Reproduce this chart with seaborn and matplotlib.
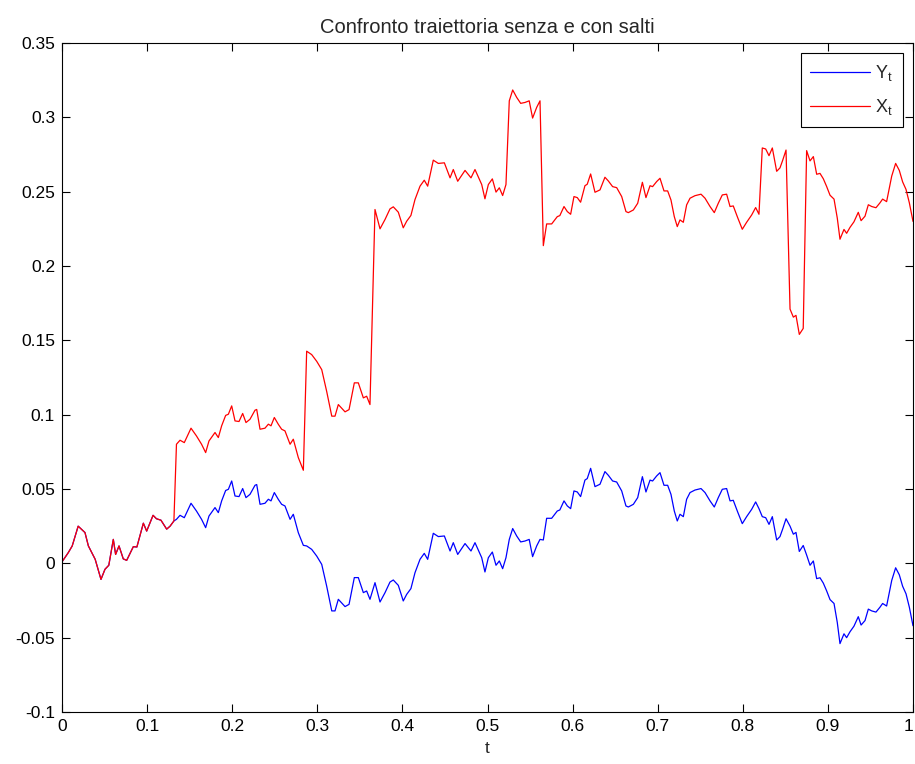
import numpy as np
import pandas as pd
import matplotlib
matplotlib.use("Agg")
import matplotlib.pyplot as plt
import seaborn as sns

# time grid and trajectory without jumps (Y_t)
t_vals = [
    0.000, 0.0074, 0.012, 0.019, 0.027, 0.031, 0.039, 0.0458, 0.0505, 0.055,
    0.0603, 0.063, 0.067, 0.072, 0.076, 0.0838, 0.088, 0.0956, 0.0995, 0.107,
    0.111, 0.1163, 0.123, 0.127, 0.1315, 0.1345, 0.1387, 0.1437, 0.1516, 0.158,
    0.164, 0.1688, 0.1727, 0.1798, 0.1837, 0.1876, 0.1923, 0.1955, 0.1994, 0.2033,
    0.208, 0.2123, 0.2162, 0.2209, 0.2268, 0.2288, 0.2327, 0.2385, 0.2425, 0.2456,
    0.2495, 0.2542, 0.2581, 0.262, 0.268, 0.2718, 0.2777, 0.2836, 0.2875, 0.2934,
    0.2993, 0.3052, 0.311, 0.317, 0.3208, 0.3247, 0.3326, 0.3373, 0.3435, 0.3482,
    0.3541, 0.358, 0.3619, 0.3678, 0.3737, 0.3796, 0.3854, 0.3893, 0.3952, 0.401,
    0.405, 0.41, 0.4148, 0.4207, 0.4257, 0.4297, 0.4363, 0.4422, 0.4493, 0.456,
    0.4598, 0.465, 0.4736, 0.4806, 0.4853, 0.4932, 0.497, 0.501, 0.5057, 0.51,
    0.5139, 0.5178, 0.5217, 0.5256, 0.5296, 0.5343, 0.539, 0.544, 0.549, 0.553,
    0.5578, 0.5617, 0.5656, 0.5695, 0.5754, 0.582, 0.585, 0.5899, 0.5938, 0.5977,
    0.6016, 0.6055, 0.6094, 0.6145, 0.6172, 0.6212, 0.6263, 0.6322, 0.638, 0.642,
    0.647, 0.6518, 0.6577, 0.6627, 0.6655, 0.6714, 0.6765, 0.682, 0.6862, 0.691,
    0.694, 0.6988, 0.7027, 0.7074, 0.7117, 0.7156, 0.7195, 0.723, 0.7262, 0.7301,
    0.734, 0.738, 0.7438, 0.7509, 0.7556, 0.7615, 0.7665, 0.7712, 0.7759, 0.781,
    0.785, 0.7888, 0.794, 0.7994, 0.8045, 0.8104, 0.8151, 0.819, 0.8229, 0.8269,
    0.8308, 0.8347, 0.8398, 0.8437, 0.8468, 0.8508, 0.8555, 0.8594, 0.8625, 0.8664,
    0.871, 0.875, 0.879, 0.8829, 0.8868, 0.8907, 0.8946, 0.8985, 0.9025, 0.9072,
    0.911, 0.9142, 0.9189, 0.922, 0.926, 0.9306, 0.9357, 0.939, 0.9436, 0.9475,
    0.9515, 0.9565, 0.9612, 0.9643, 0.969, 0.975, 0.9796, 0.9839, 0.9878, 0.9918,
    0.9957, 1.000,
]
y_vals = [
    0.001, 0.0072, 0.0117, 0.025, 0.0207, 0.0117, 0.0027, -0.0108, -0.004, -0.0013,
    0.0161, 0.006, 0.0117, 0.003, 0.002, 0.0112, 0.011, 0.027, 0.0217, 0.0323,
    0.030, 0.029, 0.023, 0.025, 0.0285, 0.0296, 0.0323, 0.0307, 0.0404, 0.0352,
    0.0296, 0.024, 0.0318, 0.0375, 0.0341, 0.042, 0.049, 0.0498, 0.0554, 0.0453,
    0.0449, 0.0503, 0.0442, 0.0464, 0.0525, 0.053, 0.0397, 0.0404, 0.0431, 0.042,
    0.0476, 0.043, 0.0397, 0.0386, 0.0296, 0.033, 0.0206, 0.0121, 0.0117, 0.0094,
    0.0049, -0.0007, -0.0153, -0.032, -0.032, -0.0242, -0.0291, -0.0276, -0.0096, -0.0096,
    -0.0197, -0.0186, -0.0242, -0.013, -0.026, -0.0197, -0.0126, -0.0112, -0.0148, -0.0253,
    -0.0209, -0.017, -0.0063, 0.0027, 0.0067, 0.0027, 0.0202, 0.018, 0.0184, 0.0083,
    0.0139, 0.006, 0.0133, 0.0083, 0.0139, 0.0038, -0.0058, 0.0038, 0.0076, -0.0013,
    0.0016, -0.0036, 0.0038, 0.0161, 0.0234, 0.0184, 0.0144, 0.015, 0.0161, 0.0045,
    0.0117, 0.0161, 0.0157, 0.0303, 0.0303, 0.0352, 0.0359, 0.042, 0.0386, 0.0368,
    0.0487, 0.048, 0.0449, 0.056, 0.057, 0.0639, 0.0516, 0.0532, 0.0617, 0.0592,
    0.0554, 0.0547, 0.0487, 0.0386, 0.0379, 0.0397, 0.0442, 0.0583, 0.048, 0.056,
    0.0554, 0.0588, 0.061, 0.0525, 0.0525, 0.0464, 0.0352, 0.0285, 0.033, 0.0314,
    0.0431, 0.0476, 0.0493, 0.0503, 0.0476, 0.042, 0.0379, 0.0442, 0.0498, 0.0503,
    0.042, 0.0424, 0.0345, 0.0267, 0.0314, 0.0363, 0.0413, 0.0368, 0.0314, 0.0307,
    0.0262, 0.0314, 0.0157, 0.018, 0.023, 0.030, 0.025, 0.0196, 0.0208, 0.008,
    0.012, 0.0056, -0.0013, 0.0016, -0.0103, -0.0097, -0.0133, -0.0185, -0.0244, -0.027,
    -0.0397, -0.054, -0.0474, -0.05, -0.046, -0.0423, -0.0359, -0.0415, -0.0385, -0.0308,
    -0.032, -0.0328, -0.0295, -0.027, -0.0287, -0.0115, -0.003, -0.0077, -0.0154, -0.0205,
    -0.0295, -0.042,
]

# jump times and sizes of the jump component (X_t = Y_t + jumps)
jump_times = [0.133, 0.285, 0.363, 0.5235, 0.5637, 0.8205, 0.8525, 0.873]
jump_sizes = [0.0505, 0.0805, 0.120, 0.044, -0.097, 0.050, -0.102, 0.126]

xtick_vals = [0, 0.1, 0.2, 0.3, 0.4, 0.5, 0.6, 0.7, 0.8, 0.9, 1]
xtick_labels = ["0", "0.1", "0.2", "0.3", "0.4", "0.5", "0.6", "0.7", "0.8", "0.9", "1"]
ytick_vals = [-0.1, -0.05, 0, 0.05, 0.1, 0.15, 0.2, 0.25, 0.3, 0.35]
ytick_labels = ["-0.1", "-0.05", "0", "0.05", "0.1", "0.15", "0.2", "0.25", "0.3", "0.35"]

t = np.array(t_vals)
y = np.array(y_vals)
cum_jump = np.zeros_like(t)
for jt, js in zip(jump_times, jump_sizes):
    cum_jump[t >= jt] += js
x = y + cum_jump

df = pd.DataFrame({"t": t, "Y": y, "X": x})

sns.set_style("ticks")
plt.rcParams["font.family"] = ["Liberation Sans", "DejaVu Sans"]
plt.rcParams["mathtext.default"] = "regular"

fig = plt.figure(figsize=(9.15, 7.64), dpi=100)
ax = fig.add_axes([62 / 915, 1 - 712 / 764, (913 - 62) / 915, (712 - 43) / 764])

sns.lineplot(data=df, x="t", y="Y", ax=ax, color="#0000ff", linewidth=0.9,
             sort=False, estimator=None, label=r"$Y_t$")
sns.lineplot(data=df, x="t", y="X", ax=ax, color="#ff0000", linewidth=0.9,
             sort=False, estimator=None, label=r"$X_t$")

ax.set_xlim(0, 1)
ax.set_ylim(-0.1, 0.35)
ax.set_xticks(xtick_vals)
ax.set_xticklabels(xtick_labels)
ax.set_yticks(ytick_vals)
ax.set_yticklabels(ytick_labels)
ax.tick_params(direction="in", top=True, right=True, length=6, width=0.8,
               labelsize=12.5, colors="black", pad=5)
# keep the last tick label inside the figure edge
ax.get_xticklabels()[-1].set_horizontalalignment("right")
for sp in ax.spines.values():
    sp.set_visible(True)
    sp.set_color("black")
    sp.set_linewidth(0.8)

ax.set_xlabel("t", fontsize=12.5, labelpad=5)
ax.set_ylabel("")
ax.set_title("Confronto traiettoria senza e con salti", fontsize=14.5, pad=7)

leg = ax.legend(loc="upper right", fontsize=13, handlelength=3.3, labelspacing=0.8,
                handletextpad=0.3, borderpad=0.55, borderaxespad=0.55,
                fancybox=False, framealpha=1, edgecolor="black")
leg.get_frame().set_linewidth(0.8)

fig.savefig("out.png", dpi=100)
